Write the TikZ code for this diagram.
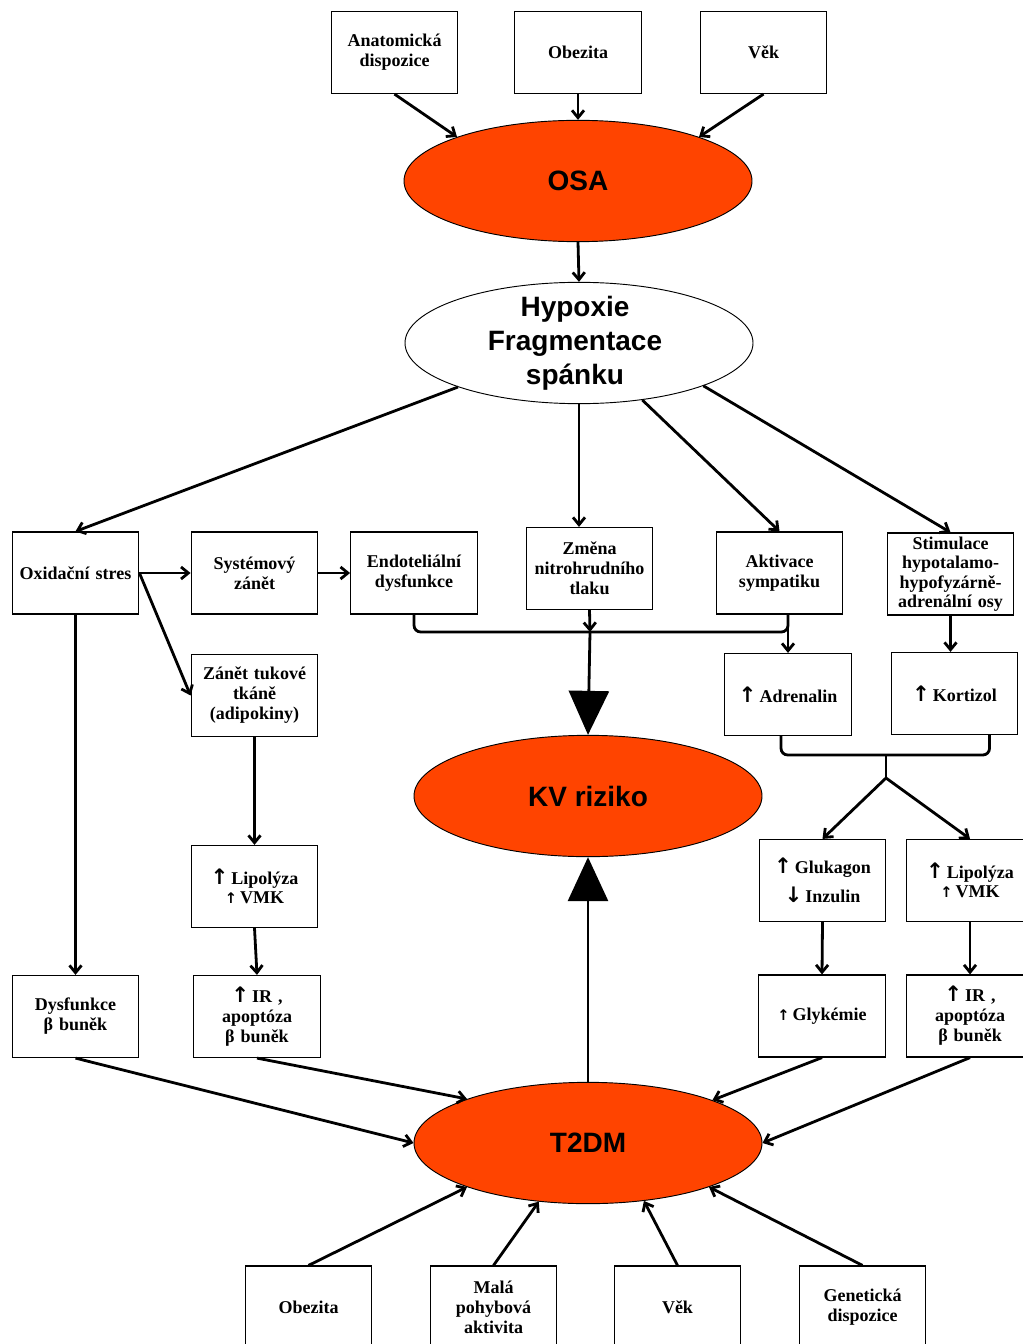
\documentclass[tikz,border=0pt]{standalone}
\usepackage{fontspec}
\setmainfont{Liberation Serif}
\newfontfamily\ellf{Liberation Sans}
\newfontfamily\arrf{DejaVu Sans}
\usetikzlibrary{shapes.geometric,arrows.meta,calc}
\definecolor{osared}{RGB}{255,68,0}
\newcommand{\bup}{{\arrf\fontsize{16}{16}\selectfont ↑}}
\newcommand{\smup}{{\arrf\fontsize{11}{11}\selectfont ↑}}
\newcommand{\bdown}{{\arrf\fontsize{16}{16}\selectfont ↓}}
\begin{document}
\begin{tikzpicture}[x=0.75pt,y=-0.75pt,
  box/.style={draw, line width=0.9pt, fill=white, minimum width=95pt, minimum height=61.5pt,
    text width=92pt, align=center, inner sep=1pt, font=\bfseries\fontsize{13.5}{15}\selectfont},
  ell/.style={ellipse, draw, line width=0.7pt, fill=osared, minimum width=261pt, minimum height=91pt, inner sep=0pt},
  elltext/.style={font=\ellf\bfseries\fontsize{21}{25.5}\selectfont, align=center},
  line/.style={line width=2.1pt},
  arr/.style={line width=2.1pt, -{Straight Barb[length=5.5pt,width=9pt]}},
  big/.style={line width=2.1pt, -{Triangle[length=33pt,width=30pt]}}]
\fill[white] (0,0) rectangle (1022,1344);
\useasboundingbox (0,0) rectangle (1022,1344);

% top
\node[box] (anat) at (394.5,52.5) {Anatomická\\dispozice};
\node[box] (obz1) at (578,52.5) {Obezita};
\node[box] (vek1) at (763.5,52.5) {Věk};

\node[ell, label={[elltext]center:OSA}] (osa) at (578,181) {};
\node[ell, fill=white, label={[elltext, xshift=-3pt]center:Hypoxie\\Fragmentace\\spánku}] (hyp) at (579,343) {};

% row
\node[box] (oxid) at (75.5,573) {Oxidační stres};
\node[box] (sys) at (254.5,573) {Systémový\\zánět};
\node[box] (endo) at (414,573) {Endoteliální\\dysfunkce};
\node[box] (zmena) at (589.5,568.5) {Změna\\nitrohrudního\\tlaku};
\node[box] (akt) at (779.5,573) {Aktivace\\sympatiku};
\node[box, font=\bfseries\fontsize{13.5}{14.6}\selectfont] (stim) at (950.5,574) {Stimulace\\hypotalamo-\\hypofyzárně-\\adrenální osy};

\node[box] (tuk) at (254.5,695.5) {Zánět tukové\\tkáně\\(adipokiny)};
\node[box] (adr) at (788,694.5) {\bup\,Adrenalin};
\node[box] (kort) at (954.5,693.5) {\bup\,Kortizol};

\node[ell, label={[elltext]center:KV riziko}] (kv) at (588,796) {};

\node[box] (lip1) at (254.5,886.5) {\bup\,Lipolýza\\[-1pt]\smup\,VMK};
\node[box] (gluk) at (822.5,880.5) {\bup\,Glukagon\\[7pt]\bdown\,Inzulin};
\node[box] (lip2) at (970,880.5) {\bup\,Lipolýza\\[-1pt]\smup\,VMK};

\node[box] (dysf) at (75.5,1016.5) {Dysfunkce\\β buněk};
\node[box] (ir1) at (257,1016.5) {\bup\,IR ,\\apoptóza\\β buněk};
\node[box] (glyk) at (822,1016) {\smup\,Glykémie};
\node[box] (ir2) at (970,1016) {\bup\,IR ,\\apoptóza\\β buněk};

\node[ell, label={[elltext]center:T2DM}] (t2) at (588,1143) {};

\node[box] (ob2) at (308.5,1307) {Obezita};
\node[box] (mala) at (493.5,1307) {Malá\\pohybová\\aktivita};
\node[box] (vek2) at (677.5,1307) {Věk};
\node[box] (gen) at (862.5,1307) {Genetická\\dispozice};

\coordinate (jn) at (590,632);
\coordinate (br) at (886,755);
\coordinate (split) at (886,778);

% connectors
\draw[arr] (anat.south) -- (osa.160);
\draw[arr] (obz1.south) -- (osa.north);
\draw[arr] (vek1.south) -- (osa.20);
\draw[arr] (osa.south) -- (hyp.north);

\draw[arr] (hyp.200) -- (oxid.north);
\draw[arr] (hyp.south) -- (hyp.south |- zmena.north);
\draw[arr] (hyp.-42) -- (akt.north);
\draw[arr] (hyp.-19.4) -- (stim.north);

\draw[arr] (oxid.east) -- (sys.west);
\draw[arr] (sys.east) -- (endo.west);
\draw[arr] (oxid.east) -- (tuk.west);
\draw[arr] (oxid.south) -- (dysf.north);
\draw[arr] (tuk.south) -- (lip1.north);
\draw[arr] (lip1.south) -- (ir1.north);

\draw[line, rounded corners=5pt] (endo.south) |- (jn) -| (adr.north |- akt.south);
\draw[arr] (zmena.south) -- (jn);
\draw[big] (jn) -- (kv.north);
\draw[arr] (adr.north |- akt.south) -- (adr.north);
\draw[arr] (stim.south) -- (stim.south |- kort.north);

\draw[line, rounded corners=5pt] ($(adr.south)+(-7,0)$) |- (br) -| ($(kort.south)+(35,0)$);
\draw[line] (br) -- (split);
\draw[arr] (split) -- (gluk.north);
\draw[arr] (split) -- (lip2.north);
\draw[arr] (gluk.south) -- (glyk.north);
\draw[arr] (lip2.south) -- (ir2.north);

\draw[arr] (dysf.south) -- (t2.west);
\draw[arr] (ir1.south) -- (t2.160.6);
\draw[arr] (glyk.south) -- (t2.19);
\draw[arr] (ir2.south) -- (t2.east);

\draw[arr] (ob2.north) -- (t2.-160);
\draw[arr] (mala.north) -- (t2.-130);
\draw[arr] (vek2.north) -- (t2.-46);
\draw[arr] (gen.north) -- (t2.-20);

\draw[big] (t2.north) -- (kv.south);
\end{tikzpicture}
\end{document}
